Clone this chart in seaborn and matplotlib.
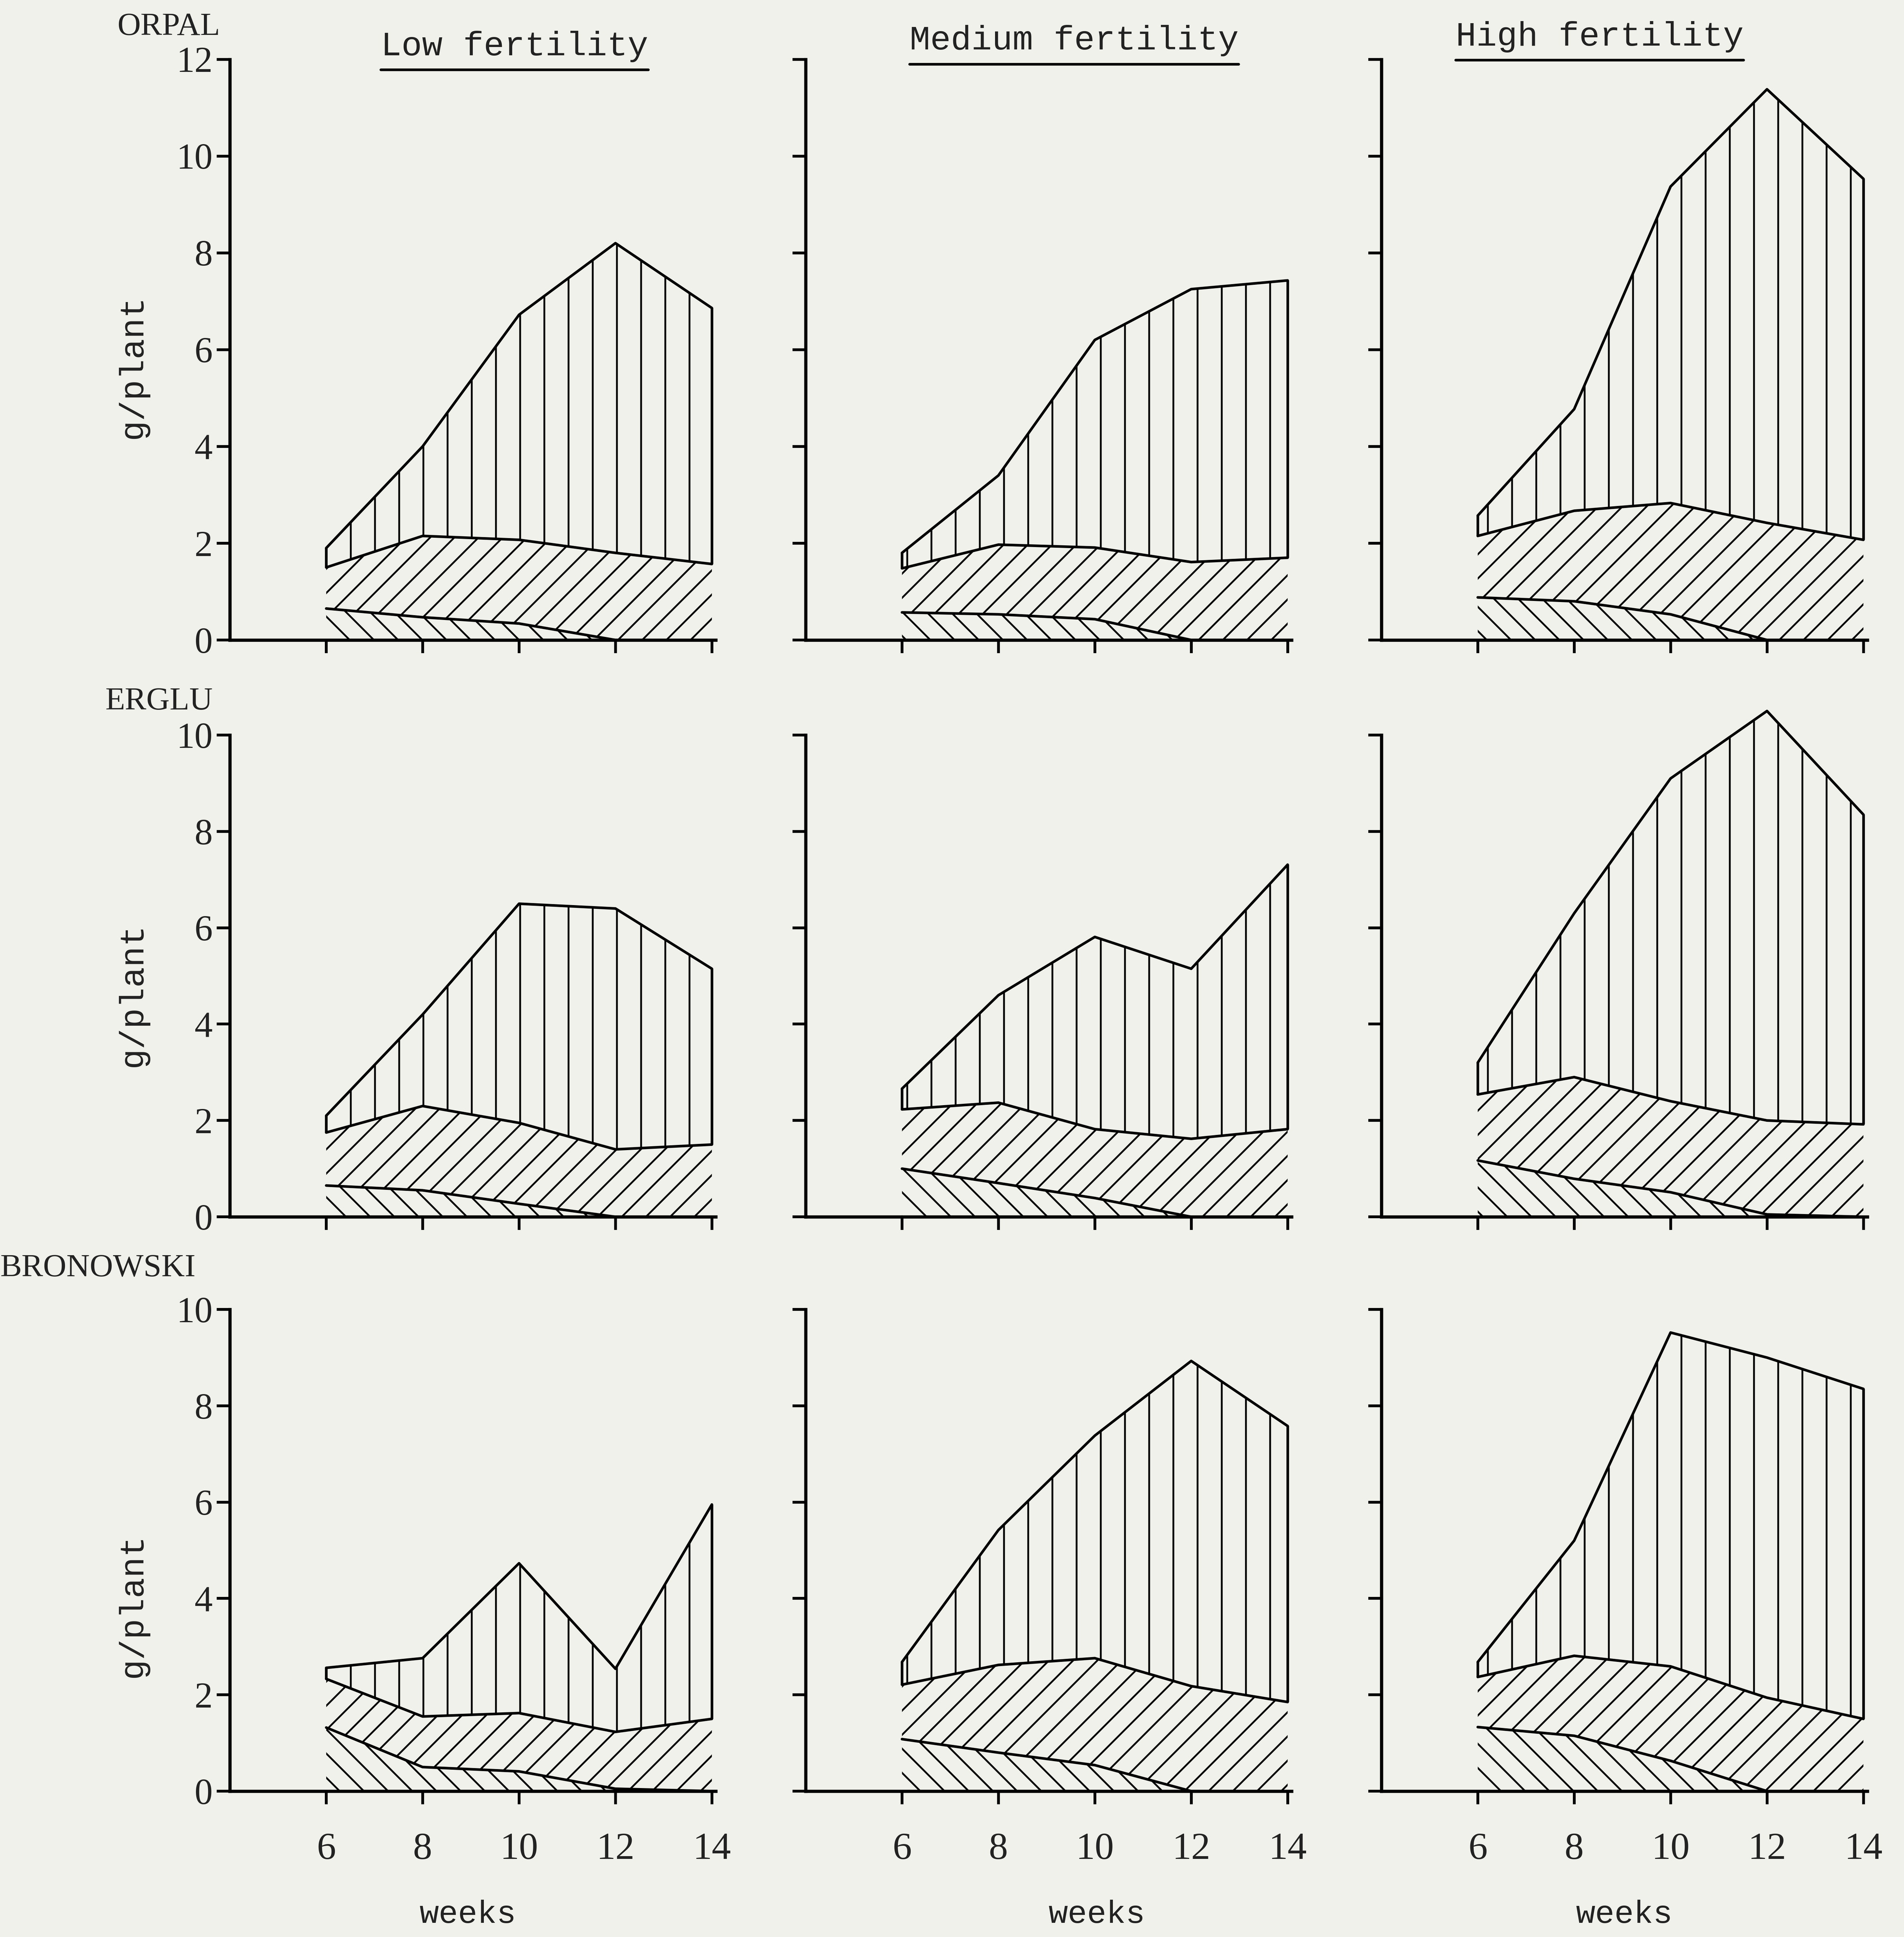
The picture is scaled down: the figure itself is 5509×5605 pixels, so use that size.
import matplotlib
matplotlib.use("Agg")
import matplotlib.pyplot as plt
import seaborn as sns
from matplotlib.lines import Line2D

# Data: cumulative boundaries of the three stacked layers (g/plant)
weeks = [6, 8, 10, 12, 14]

varieties = ["ORPAL", "ERGLU", "BRONOWSKI"]
fertility = ["Low fertility", "Medium fertility", "High fertility"]

orpal_low_bottom = [0.65, 0.47, 0.34, 0.0, 0.0]
orpal_low_middle = [1.5, 2.15, 2.07, 1.8, 1.57]
orpal_low_total = [1.9, 4.0, 6.72, 8.2, 6.86]

orpal_med_bottom = [0.57, 0.53, 0.43, 0.0, 0.0]
orpal_med_middle = [1.48, 1.97, 1.91, 1.61, 1.7]
orpal_med_total = [1.8, 3.4, 6.2, 7.25, 7.43]

orpal_high_bottom = [0.88, 0.8, 0.53, 0.0, 0.0]
orpal_high_middle = [2.15, 2.67, 2.83, 2.42, 2.07]
orpal_high_total = [2.57, 4.77, 9.37, 11.38, 9.53]

erglu_low_bottom = [0.65, 0.55, 0.27, 0.0, 0.0]
erglu_low_middle = [1.75, 2.3, 1.95, 1.4, 1.5]
erglu_low_total = [2.1, 4.2, 6.5, 6.4, 5.15]

erglu_med_bottom = [1.0, 0.7, 0.39, 0.0, 0.0]
erglu_med_middle = [2.23, 2.37, 1.82, 1.62, 1.82]
erglu_med_total = [2.66, 4.6, 5.81, 5.15, 7.31]

erglu_high_bottom = [1.17, 0.79, 0.51, 0.05, 0.0]
erglu_high_middle = [2.54, 2.9, 2.4, 2.0, 1.92]
erglu_high_total = [3.2, 6.3, 9.1, 10.5, 8.35]

bron_low_bottom = [1.32, 0.5, 0.41, 0.05, 0.0]
bron_low_middle = [2.33, 1.55, 1.62, 1.23, 1.5]
bron_low_total = [2.56, 2.76, 4.73, 2.54, 5.95]

bron_med_bottom = [1.08, 0.8, 0.54, 0.0, 0.0]
bron_med_middle = [2.21, 2.62, 2.76, 2.18, 1.85]
bron_med_total = [2.68, 5.42, 7.38, 8.93, 7.58]

bron_high_bottom = [1.33, 1.15, 0.63, 0.0, 0.0]
bron_high_middle = [2.37, 2.81, 2.59, 1.94, 1.5]
bron_high_total = [2.68, 5.2, 9.52, 9.0, 8.35]

panels = [
    [(orpal_low_bottom, orpal_low_middle, orpal_low_total),
     (orpal_med_bottom, orpal_med_middle, orpal_med_total),
     (orpal_high_bottom, orpal_high_middle, orpal_high_total)],
    [(erglu_low_bottom, erglu_low_middle, erglu_low_total),
     (erglu_med_bottom, erglu_med_middle, erglu_med_total),
     (erglu_high_bottom, erglu_high_middle, erglu_high_total)],
    [(bron_low_bottom, bron_low_middle, bron_low_total),
     (bron_med_bottom, bron_med_middle, bron_med_total),
     (bron_high_bottom, bron_high_middle, bron_high_total)],
]
y_max = [12, 10, 10]

# Style
sns.set_theme(style="white")
paper = "#f1f1eb"
plt.rcParams["font.family"] = ["Liberation Serif", "DejaVu Serif"]
plt.rcParams["hatch.linewidth"] = 0.9
plt.rcParams["axes.facecolor"] = "none"
mono = ["Liberation Mono", "DejaVu Sans Mono"]

DPI = 420
fig = plt.figure(figsize=(5509 / DPI, 5605 / DPI), dpi=DPI, facecolor=paper)

col_left = [0.1207, 0.4231, 0.7255]
ax_w = 0.2552
row_pos = [(0.6696, 0.2998), (0.3718, 0.2487), (0.0753, 0.2487)]
ylabel_y = [0.47, 0.46, 0.385]
weeks_x = [0.49, 0.60, 0.50]
title_x = [0.586, 0.553, 0.449]
title_y = [0.976, 0.979, 0.981]
name_pos = [(0.0616, 0.986), (0.0552, 0.6378), (0.0, 0.345)]

titles = []
for r in range(3):
    for c in range(3):
        bottom, height = row_pos[r]
        ax = fig.add_axes([col_left[c], bottom, ax_w, height])
        low, mid, tot = panels[r][c]

        # hatched layers
        ax.fill_between(weeks, 0, low, facecolor="none", edgecolor="black",
                        hatch="\\\\", linewidth=0, clip_on=False)
        ax.fill_between(weeks, low, mid, facecolor="none", edgecolor="black",
                        hatch="//", linewidth=0, clip_on=False)
        ax.fill_between(weeks, mid, tot, facecolor="none", edgecolor="black",
                        hatch="|", linewidth=0, clip_on=False)

        # boundary lines
        for series in (low, mid, tot):
            sns.lineplot(x=weeks, y=series, ax=ax, color="black",
                         linewidth=1.3, clip_on=False)
        ax.vlines([weeks[0], weeks[-1]], [mid[0], mid[-1]], [tot[0], tot[-1]],
                  color="black", linewidth=1.3, clip_on=False)

        ax.set_xlim(4, 14.08)
        ax.set_ylim(0, y_max[r])
        ax.set_xticks(weeks)
        ax.set_yticks(range(0, y_max[r] + 1, 2))
        for s in ("top", "right"):
            ax.spines[s].set_visible(False)
        for s in ("left", "bottom"):
            ax.spines[s].set_color("black")
            ax.spines[s].set_linewidth(1.6)
        ax.tick_params(axis="both", direction="out", length=6.5, width=1.4,
                       color="black", labelsize=18, labelcolor="#222222",
                       left=True, bottom=True)
        ax.tick_params(axis="y", pad=2)
        ax.tick_params(axis="x", pad=14, labelsize=19)
        if r < 2:
            ax.tick_params(labelbottom=False)
        if c > 0:
            ax.tick_params(labelleft=False)
        else:
            ax.set_ylabel("g/plant", family=mono, fontsize=17, color="#222222")
            ax.yaxis.set_label_coords(-0.1675, ylabel_y[r])
        if r == 2:
            ax.text(weeks_x[c], -0.256, "weeks", transform=ax.transAxes,
                    ha="center", va="center", family=mono, fontsize=16,
                    color="#222222")
        if r == 0:
            t = fig.text(col_left[c] + title_x[c] * ax_w, title_y[c],
                         fertility[c], ha="center", va="center",
                         family=mono, fontsize=17, color="#222222")
            titles.append(t)
        ax.grid(False)

for name, (x, y) in zip(varieties, name_pos):
    fig.text(x, y, name, ha="left", va="center", fontsize=16, color="#222222")

# underline the column titles
fig.canvas.draw()
renderer = fig.canvas.get_renderer()
for t in titles:
    bb = t.get_window_extent(renderer).transformed(fig.transFigure.inverted())
    fig.add_artist(Line2D([bb.x0, bb.x1], [bb.y0 - 0.004, bb.y0 - 0.004],
                          color="black", linewidth=1.3,
                          transform=fig.transFigure))

fig.savefig("out.png", dpi=DPI, facecolor=paper)
